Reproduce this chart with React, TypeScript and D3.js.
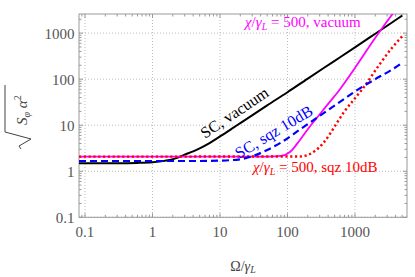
import React from "react";
import * as d3 from "d3";

const W = 415;
const H = 277;

const xTicks = [0.1, 1, 10, 100, 1000];
const xTickLabels = ["0.1", "1", "10", "100", "1000"];
const yTicks = [0.1, 1, 10, 100, 1000];
const yTickLabels = ["0.1", "1", "10", "100", "1000"];

// SC, vacuum (black solid)
const scVacOmega = [0.0815, 0.3, 0.6, 1, 1.5, 2.2, 3, 4, 5, 7, 10, 15, 20, 50, 100, 200, 500, 1000, 2000, 5000];
const scVacVal = [1.5, 1.5, 1.52, 1.57, 1.68, 1.9, 2.3, 2.7, 3.15, 4.1, 5.7, 8.4, 11.1, 27, 52, 103, 250, 490, 970, 2400];

// SC, sqz 10dB (blue dashed)
const scSqzOmega = [0.0815, 5, 10, 20, 35, 50, 80, 150, 300, 670, 1060, 2000, 3500, 5000];
const scSqzVal = [1.67, 1.67, 1.7, 1.82, 2.3, 2.9, 4.2, 7.9, 16, 36, 57, 100, 160, 225];

// chi/gamma = 500, vacuum (magenta solid)
const chiVacOmega = [0.0815, 50, 80, 110, 150, 200, 270, 400, 566, 1000, 2000, 2630, 4000];
const chiVacVal = [2.08, 2.08, 2.15, 2.65, 4.6, 8.2, 14.2, 29, 54, 175, 790, 1390, 3200];

// chi/gamma = 500, sqz 10dB (red dotted)
const chiSqzOmega = [0.0815, 150, 200, 250, 340, 430, 535, 700, 950, 1300, 2345, 3500, 5000];
const chiSqzVal = [2.08, 2.09, 2.25, 2.7, 4.1, 6.6, 11, 20, 35, 62, 215, 470, 850];

export default function App() {
  const left = 79, right = 407, top = 14, bottom = 217.3;
  const x = d3.scaleLog().domain([0.0815, 5900]).range([left, right]);
  const y = d3.scaleLog().domain([0.1, 2600]).range([bottom, top]);

  const mk = (om: number[], v: number[]) =>
    d3
      .line<number>()
      .x((_, i) => x(om[i]))
      .y((_, i) => y(v[i]))
      .curve(d3.curveMonotoneX)(om) || "";

  const minorX: number[] = [];
  for (let e = -2; e <= 3; e++) for (let m = 1; m <= 9; m++) {
    const v = m * Math.pow(10, e);
    if (v >= 0.0815 && v <= 5900) minorX.push(v);
  }
  const minorY: number[] = [];
  for (let e = -1; e <= 3; e++) for (let m = 1; m <= 9; m++) {
    const v = m * Math.pow(10, e);
    if (v >= 0.1 && v <= 2600) minorY.push(v);
  }
  const isMajor = (v: number) => Math.abs(Math.log10(v) - Math.round(Math.log10(v))) < 1e-6;

  const font = "'Liberation Serif', 'Times New Roman', serif";
  const tickColor = "#555";
  const frame = "#999";

  return (
    <svg width={W} height={H} style={{ position: "absolute", left: 0, top: 0, background: "#fff" }}>
      <defs>
        <clipPath id="plot">
          <rect x={left} y={top} width={right - left} height={bottom - top} />
        </clipPath>
      </defs>
      {/* gridlines */}
      {xTicks.map((t) => (
        <line key={"gx" + t} x1={x(t)} x2={x(t)} y1={top} y2={bottom} stroke="#bbb" strokeWidth={1} strokeDasharray="1,2" />
      ))}
      {yTicks.map((t) => (
        <line key={"gy" + t} x1={left} x2={right} y1={y(t)} y2={y(t)} stroke="#bbb" strokeWidth={1} strokeDasharray="1,2" />
      ))}
      {/* minor/major ticks */}
      {minorX.map((t) => {
        const L = isMajor(t) ? 4 : 2.5;
        return (
          <g key={"tx" + t}>
            <line x1={x(t)} x2={x(t)} y1={bottom} y2={bottom - L} stroke={frame} />
            <line x1={x(t)} x2={x(t)} y1={top} y2={top + L} stroke={frame} />
          </g>
        );
      })}
      {minorY.map((t) => {
        const L = isMajor(t) ? 4 : 2.5;
        return (
          <g key={"ty" + t}>
            <line x1={left} x2={left + L} y1={y(t)} y2={y(t)} stroke={frame} />
            <line x1={right} x2={right - L} y1={y(t)} y2={y(t)} stroke={frame} />
          </g>
        );
      })}
      <rect x={left} y={top} width={right - left} height={bottom - top} fill="none" stroke={frame} strokeWidth={1} />

      {/* tick labels */}
      {xTicks.map((t, i) => (
        <text key={"lx" + t} x={x(t)} y={236.5} textAnchor="middle" fontFamily={font} fontSize={15} fill={tickColor}>
          {xTickLabels[i]}
        </text>
      ))}
      {yTicks.map((t, i) => (
        <text key={"ly" + t} x={74.5} y={y(t) + 6} textAnchor="end" fontFamily={font} fontSize={15} fill={tickColor}>
          {yTickLabels[i]}
        </text>
      ))}

      {/* curves */}
      <g clipPath="url(#plot)" fill="none">
        <path d={mk(scVacOmega, scVacVal)} stroke="#000" strokeWidth={2} />
        <path d={mk(chiVacOmega, chiVacVal)} stroke="#ff00ff" strokeWidth={1.8} />
        <path d={mk(chiSqzOmega, chiSqzVal)} stroke="#ff0000" strokeWidth={2.4} strokeDasharray="2.2,2.6" />
        <path d={mk(scSqzOmega, scSqzVal)} stroke="#0000ff" strokeWidth={2.2} strokeDasharray="7,4" />
      </g>

      {/* curve labels */}
      <text x={205} y={139} transform="rotate(-34 205 139)" fontFamily={font} fontSize={16} fill="#000">
        SC, vacuum
      </text>
      <text x={239} y={159} transform="rotate(-31 239 159)" fontFamily={font} fontSize={16} fill="#0000ff">
        SC, sqz 10dB
      </text>
      <text x={245} y={27} fontFamily={font} fontSize={15} fill="#ff00ff">
        <tspan fontStyle="italic">χ</tspan>/<tspan fontStyle="italic">γ</tspan>
        <tspan fontStyle="italic" fontSize={10} dy={3}>L</tspan>
        <tspan dy={-3}> = 500, vacuum</tspan>
      </text>
      <text x={253} y={172} fontFamily={font} fontSize={15} fill="#ff0000">
        <tspan fontStyle="italic">χ</tspan>/<tspan fontStyle="italic">γ</tspan>
        <tspan fontStyle="italic" fontSize={10} dy={3}>L</tspan>
        <tspan dy={-3}> = 500, sqz 10dB</tspan>
      </text>

      {/* axis titles */}
      <text x={243} y={271} textAnchor="middle" fontFamily={font} fontSize={14} fill="#444">
        Ω/<tspan fontStyle="italic">γ</tspan>
        <tspan fontStyle="italic" fontSize={10} dy={2}>L</tspan>
      </text>
      <path d="M5,85 L5,132 L31,139 L19,146 L21,149" fill="none" stroke="#444" strokeWidth={1} />
      <text x={27} y={125} transform="rotate(-90 27 125)" fontFamily={font} fontSize={15} fill="#444">
        <tspan fontStyle="italic">S</tspan>
        <tspan fontStyle="italic" fontSize={10} dy={3}>φ</tspan>
        <tspan dy={-3} fontStyle="italic"> α</tspan>
        <tspan fontSize={10} dy={-6}>2</tspan>
      </text>
    </svg>
  );
}
